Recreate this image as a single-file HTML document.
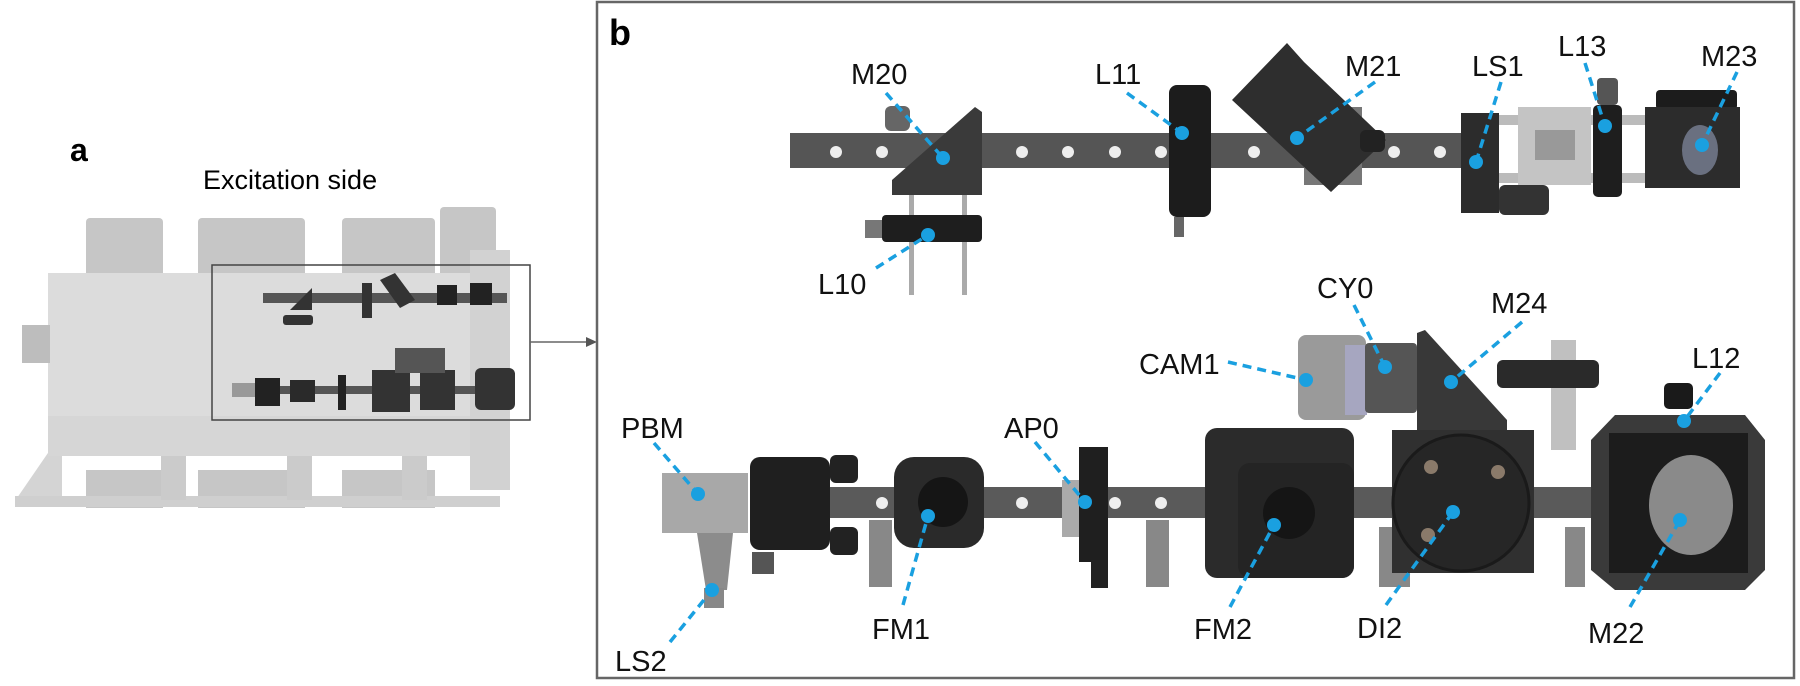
<!DOCTYPE html>
<html><head><style>
body{margin:0;background:#fff;width:1800px;height:681px;overflow:hidden}
svg text{font-family:"Liberation Sans",sans-serif}
</style></head><body>
<svg width="1800" height="681" viewBox="0 0 1800 681" xmlns="http://www.w3.org/2000/svg">
<!-- panel a -->
<text x="70" y="161" font-size="32" font-weight="bold">a</text>
<text x="203" y="189" font-size="27">Excitation side</text>
<g fill="#c6c6c6">
<rect x="86" y="218" width="77" height="60" rx="4"/>
<rect x="198" y="218" width="107" height="60" rx="4"/>
<rect x="342" y="218" width="93" height="60" rx="4"/>
<rect x="440" y="207" width="56" height="70" rx="4"/>
<rect x="86" y="470" width="77" height="38"/>
<rect x="198" y="470" width="107" height="38"/>
<rect x="342" y="470" width="93" height="38"/>
</g>
<polygon points="17,498 50,450 62,450 62,505 15,505" fill="#d4d4d4"/>
<rect x="15" y="496" width="485" height="11" fill="#cfcfcf"/>
<rect x="161" y="448" width="25" height="52" fill="#cbcbcb"/>
<rect x="287" y="448" width="25" height="52" fill="#cbcbcb"/>
<rect x="402" y="448" width="25" height="52" fill="#cbcbcb"/>
<rect x="48" y="273" width="430" height="143" fill="#dcdcdc"/>
<rect x="48" y="416" width="430" height="40" fill="#d6d6d6"/>
<rect x="22" y="325" width="28" height="38" fill="#bdbdbd"/>
<rect x="470" y="250" width="40" height="240" fill="#d2d2d2"/>
<rect x="263" y="293" width="244" height="10" fill="#555"/>
<polygon points="290,310 312,288 312,310" fill="#333"/>
<rect x="283" y="315" width="30" height="10" rx="3" fill="#333"/>
<rect x="362" y="283" width="10" height="35" fill="#333"/>
<polygon points="380,280 395,273 415,300 400,308" fill="#333"/>
<rect x="437" y="285" width="20" height="20" fill="#222"/>
<rect x="470" y="283" width="22" height="22" fill="#222"/>
<rect x="232" y="386" width="270" height="8" fill="#555"/>
<rect x="232" y="383" width="45" height="14" fill="#999"/>
<rect x="255" y="378" width="25" height="28" fill="#222"/>
<rect x="290" y="380" width="25" height="22" fill="#2a2a2a"/>
<rect x="338" y="375" width="8" height="35" fill="#222"/>
<rect x="372" y="370" width="38" height="42" fill="#333"/>
<rect x="420" y="370" width="35" height="40" fill="#333"/>
<rect x="395" y="348" width="50" height="25" fill="#555"/>
<rect x="475" y="368" width="40" height="42" rx="6" fill="#333"/>
<rect x="212" y="265" width="318" height="155" fill="none" stroke="#444" stroke-width="1.5"/>
<line x1="530" y1="342" x2="588" y2="342" stroke="#666" stroke-width="1.5"/>
<polygon points="597,342 586,337 586,347" fill="#555"/>
<!-- panel b -->
<rect x="597" y="2" width="1197" height="676" fill="none" stroke="#666" stroke-width="2.5"/>
<text x="609" y="45" font-size="36" font-weight="bold">b</text>
<!-- upper rail -->
<rect x="790" y="133" width="675" height="35" fill="#555"/>
<g fill="#eee"><circle cx="836" cy="152" r="6"/><circle cx="882" cy="152" r="6"/><circle cx="1022" cy="152" r="6"/><circle cx="1068" cy="152" r="6"/><circle cx="1115" cy="152" r="6"/><circle cx="1161" cy="152" r="6"/><circle cx="1254" cy="152" r="6"/><circle cx="1394" cy="152" r="6"/><circle cx="1440" cy="152" r="6"/></g>
<!-- M20 / L10 -->
<rect x="909" y="195" width="5" height="100" fill="#aaa"/><rect x="962" y="195" width="5" height="100" fill="#aaa"/>
<polygon points="892,180 975,107 982,112 982,195 892,195" fill="#3a3a3a"/>
<rect x="885" y="106" width="25" height="25" rx="6" fill="#666"/>
<rect x="865" y="220" width="20" height="18" fill="#777"/>
<rect x="882" y="215" width="100" height="27" rx="4" fill="#1e1e1e"/>
<!-- L11 -->
<rect x="1169" y="85" width="42" height="132" rx="8" fill="#1c1c1c"/>
<rect x="1174" y="217" width="10" height="20" fill="#666"/>
<!-- M21 -->
<rect x="1304" y="107" width="58" height="78" fill="#777"/>
<polygon points="1232,100 1287,43 1304,62 1386,140 1331,192" fill="#2e2e2e"/>
<rect x="1360" y="130" width="25" height="22" rx="6" fill="#222"/>
<!-- LS1, L13, M23 -->
<rect x="1499" y="115" width="146" height="10" fill="#bbb"/>
<rect x="1499" y="173" width="146" height="10" fill="#bbb"/>
<rect x="1518" y="107" width="73" height="78" fill="#c4c4c4"/>
<rect x="1535" y="130" width="40" height="30" fill="#999"/>
<rect x="1461" y="113" width="38" height="100" fill="#2c2c2c"/>
<rect x="1499" y="185" width="50" height="30" rx="6" fill="#333"/>
<rect x="1597" y="78" width="21" height="27" rx="4" fill="#555"/>
<rect x="1593" y="105" width="29" height="92" rx="5" fill="#1e1e1e"/>
<rect x="1656" y="90" width="81" height="20" rx="4" fill="#1c1c1c"/>
<rect x="1645" y="107" width="95" height="81" fill="#2c2c2c"/>
<ellipse cx="1700" cy="150" rx="18" ry="25" fill="#6a7080"/>
<!-- lower rail -->
<rect x="750" y="487" width="850" height="31" fill="#5a5a5a"/>
<g fill="#eee"><circle cx="882" cy="503" r="6"/><circle cx="1022" cy="503" r="6"/><circle cx="1115" cy="503" r="6"/><circle cx="1161" cy="503" r="6"/></g>
<g fill="#888"><rect x="869" y="520" width="23" height="67"/><rect x="1146" y="520" width="23" height="67"/><rect x="1379" y="527" width="31" height="60"/><rect x="1565" y="527" width="20" height="60"/></g>
<rect x="662" y="473" width="86" height="60" fill="#a8a8a8"/>
<polygon points="697,533 733,533 727,590 706,590" fill="#8c8c8c"/>
<rect x="704" y="588" width="20" height="20" fill="#888"/>
<rect x="750" y="457" width="80" height="93" rx="10" fill="#1f1f1f"/>
<rect x="830" y="455" width="28" height="28" rx="6" fill="#222"/><rect x="830" y="527" width="28" height="28" rx="6" fill="#222"/>
<rect x="752" y="552" width="22" height="22" fill="#555"/>
<rect x="894" y="457" width="90" height="91" rx="20" fill="#2a2a2a"/>
<circle cx="943" cy="502" r="25" fill="#151515"/>
<rect x="1062" y="480" width="18" height="57" fill="#aaa"/>
<rect x="1079" y="447" width="29" height="115" fill="#1f1f1f"/>
<rect x="1091" y="560" width="17" height="28" fill="#222"/>
<!-- CAM1 / CY0 / M24 -->
<rect x="1298" y="335" width="68" height="85" rx="8" fill="#9a9a9a"/>
<rect x="1345" y="345" width="22" height="70" fill="#a6a6c0"/>
<rect x="1365" y="343" width="52" height="70" rx="4" fill="#555"/>
<polygon points="1417,333 1425,330 1507,420 1507,430 1417,430" fill="#383838"/>
<rect x="1551" y="340" width="25" height="110" fill="#c0c0c0"/>
<rect x="1497" y="360" width="102" height="28" rx="6" fill="#2a2a2a"/>
<!-- FM2 -->
<rect x="1205" y="428" width="149" height="150" rx="12" fill="#2b2b2b"/>
<rect x="1238" y="463" width="116" height="115" rx="12" fill="#242424"/>
<circle cx="1289" cy="513" r="26" fill="#151515"/>
<!-- DI2 -->
<rect x="1392" y="430" width="142" height="143" fill="#303030"/>
<circle cx="1461" cy="503" r="68" fill="#262626" stroke="#1a1a1a" stroke-width="3"/>
<circle cx="1431" cy="467" r="7" fill="#8a7a6a"/><circle cx="1498" cy="472" r="7" fill="#8a7a6a"/><circle cx="1428" cy="535" r="7" fill="#8a7a6a"/>
<!-- M22 -->
<rect x="1664" y="383" width="29" height="26" rx="5" fill="#1a1a1a"/>
<polygon points="1615,415 1745,415 1765,440 1765,570 1745,590 1615,590 1591,570 1591,440" fill="#3a3a3a"/>
<rect x="1609" y="433" width="139" height="140" fill="#1c1c1c"/>
<ellipse cx="1691" cy="505" rx="42" ry="50" fill="#8a8a8a"/>
<!-- labels -->
<g font-size="29" fill="#111">
<text x="851" y="84">M20</text><text x="1095" y="84">L11</text><text x="1345" y="76">M21</text>
<text x="1472" y="76">LS1</text><text x="1558" y="56">L13</text><text x="1701" y="66">M23</text>
<text x="818" y="294">L10</text><text x="1317" y="298">CY0</text><text x="1491" y="313">M24</text>
<text x="1139" y="374">CAM1</text><text x="1692" y="368">L12</text><text x="621" y="438">PBM</text>
<text x="1004" y="438">AP0</text><text x="872" y="639">FM1</text><text x="1194" y="639">FM2</text>
<text x="1357" y="638">DI2</text><text x="1588" y="643">M22</text><text x="615" y="671">LS2</text>
</g>
<g stroke="#1aa0e0" stroke-width="3.5" stroke-dasharray="9,6" fill="none">
<line x1="886" y1="93" x2="943" y2="158"/><line x1="1127" y1="93" x2="1182" y2="133"/>
<line x1="1375" y1="82" x2="1297" y2="138"/><line x1="1501" y1="82" x2="1476" y2="162"/>
<line x1="1585" y1="63" x2="1605" y2="126"/><line x1="1737" y1="72" x2="1702" y2="145"/>
<line x1="876" y1="268" x2="928" y2="235"/><line x1="1354" y1="305" x2="1385" y2="367"/>
<line x1="1522" y1="322" x2="1451" y2="382"/><line x1="1228" y1="362" x2="1306" y2="380"/>
<line x1="1720" y1="373" x2="1684" y2="421"/><line x1="654" y1="443" x2="698" y2="494"/>
<line x1="1035" y1="442" x2="1085" y2="502"/><line x1="903" y1="605" x2="928" y2="516"/>
<line x1="1230" y1="607" x2="1274" y2="525"/><line x1="1386" y1="605" x2="1453" y2="512"/>
<line x1="1630" y1="607" x2="1680" y2="520"/><line x1="670" y1="642" x2="712" y2="590"/>
</g>
<g fill="#1aa0e0">
<circle cx="943" cy="158" r="7"/><circle cx="1182" cy="133" r="7"/><circle cx="1297" cy="138" r="7"/>
<circle cx="1476" cy="162" r="7"/><circle cx="1605" cy="126" r="7"/><circle cx="1702" cy="145" r="7"/>
<circle cx="928" cy="235" r="7"/><circle cx="1385" cy="367" r="7"/><circle cx="1451" cy="382" r="7"/>
<circle cx="1306" cy="380" r="7"/><circle cx="1684" cy="421" r="7"/><circle cx="698" cy="494" r="7"/>
<circle cx="1085" cy="502" r="7"/><circle cx="928" cy="516" r="7"/><circle cx="1274" cy="525" r="7"/>
<circle cx="1453" cy="512" r="7"/><circle cx="1680" cy="520" r="7"/><circle cx="712" cy="590" r="7"/>
</g>
</svg>
</body></html>
